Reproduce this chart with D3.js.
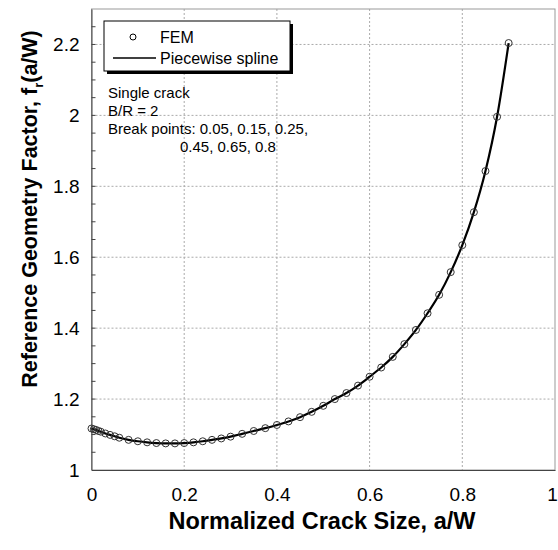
<!DOCTYPE html>
<html>
<head>
<meta charset="utf-8">
<script src="https://cdn.jsdelivr.net/npm/d3@7"></script>
<style>
  body { margin: 0; background: #fff; }
  text { font-family: "Liberation Sans", Arial, sans-serif; }
</style>
</head>
<body>
<svg id="chart"></svg>
<script>
// FEM results, a/W and f_r
const aW = [0, 0.005, 0.01, 0.015, 0.02, 0.03, 0.04, 0.05, 0.06, 0.08,
  0.1, 0.12, 0.14, 0.16, 0.18, 0.2, 0.22, 0.24, 0.26, 0.28, 0.3,
  0.325, 0.35, 0.375, 0.4, 0.425, 0.45, 0.475, 0.5, 0.525, 0.55, 0.575,
  0.6, 0.625, 0.65, 0.675, 0.7, 0.725, 0.75, 0.775, 0.8, 0.825, 0.85, 0.875, 0.9];
const fr = [1.117, 1.115, 1.113, 1.110, 1.108, 1.103, 1.099, 1.095, 1.091, 1.085,
  1.081, 1.078, 1.076, 1.075, 1.075, 1.076, 1.078, 1.081, 1.085, 1.089, 1.094,
  1.102, 1.110, 1.118, 1.127, 1.137, 1.149, 1.164, 1.181, 1.200, 1.217, 1.238,
  1.263, 1.289, 1.319, 1.355, 1.395, 1.442, 1.494, 1.558, 1.634, 1.727, 1.843, 1.996, 2.204];

const xTicks = [0, 0.2, 0.4, 0.6, 0.8, 1];
const yTicks = [1, 1.2, 1.4, 1.6, 1.8, 2, 2.2];
const yMinor = d3.range(1.05, 2.3, 0.05);

const notes = ["Single crack", "B/R = 2", "Break points: 0.05, 0.15, 0.25,"];
const notes2 = "0.45, 0.65, 0.8";

const width = 558;
const height = 550;
const margin = { top: 9, right: 3, bottom: 80, left: 91.5 };
const chartWidth = width - margin.left - margin.right;
const chartHeight = height - margin.top - margin.bottom;

const svg = d3.select("#chart")
  .attr("width", width)
  .attr("height", height);

const chart = svg.append("g")
  .attr("transform", "translate(" + margin.left + "," + margin.top + ")");

const xScale = d3.scaleLinear().domain([0, 1]).range([0, chartWidth]);
const yScale = d3.scaleLinear().domain([1, 2.3]).range([chartHeight, 0]);

const data = aW.map((a, i) => ({ a: a, f: fr[i] }));

// grid
chart.selectAll(".gx")
  .data(xTicks.slice(1, -1))
  .enter().append("line")
  .attr("x1", d => xScale(d)).attr("x2", d => xScale(d))
  .attr("y1", 0).attr("y2", chartHeight)
  .attr("stroke", "#aaa").attr("stroke-dasharray", "2,2");

chart.selectAll(".gy")
  .data(yTicks.slice(1))
  .enter().append("line")
  .attr("x1", 0).attr("x2", chartWidth)
  .attr("y1", d => yScale(d)).attr("y2", d => yScale(d))
  .attr("stroke", "#aaa").attr("stroke-dasharray", "2,2");

// frame
chart.append("rect")
  .attr("x", 0).attr("y", 0)
  .attr("width", chartWidth).attr("height", chartHeight)
  .attr("fill", "none").attr("stroke", "#999");

// minor y ticks (inside)
chart.selectAll(".my")
  .data(yMinor)
  .enter().append("line")
  .attr("x1", 0).attr("x2", 4)
  .attr("y1", d => yScale(d)).attr("y2", d => yScale(d))
  .attr("stroke", "#444");

// axes
const xAxis = chart.append("g")
  .attr("transform", `translate(0,${chartHeight})`)
  .call(d3.axisBottom(xScale).tickValues(xTicks).tickSize(0).tickPadding(18)
    .tickFormat(d3.format("~g")));
const yAxis = chart.append("g")
  .call(d3.axisLeft(yScale).tickValues(yTicks).tickSize(0).tickPadding(12)
    .tickFormat(d3.format("~g")));

[xAxis, yAxis].forEach(ax => {
  ax.select(".domain").attr("stroke", "#444");
  ax.selectAll("text")
    .attr("font-family", "Liberation Sans, Arial, sans-serif")
    .attr("font-size", 19)
    .attr("fill", "#000");
});
// keep the last x label inside the picture
xAxis.selectAll(".tick text").filter(d => d === 1).attr("dx", -3);

// spline through FEM points
const line = d3.line()
  .x(d => xScale(d.a))
  .y(d => yScale(d.f))
  .curve(d3.curveMonotoneX);

chart.append("path")
  .datum(data)
  .attr("fill", "none")
  .attr("stroke", "#000")
  .attr("stroke-width", 2.2)
  .attr("d", line);

chart.selectAll(".fem")
  .data(data)
  .enter().append("circle")
  .attr("class", "fem")
  .attr("cx", d => xScale(d.a))
  .attr("cy", d => yScale(d.f))
  .attr("r", 3.5)
  .attr("fill", "none")
  .attr("stroke", "#333")
  .attr("stroke-width", 1);

// axis labels
svg.append("text")
  .attr("x", 322)
  .attr("y", 529)
  .attr("text-anchor", "middle")
  .attr("font-size", 23.5)
  .attr("font-weight", "bold")
  .text("Normalized Crack Size, a/W");

const yLabel = svg.append("text")
  .attr("transform", "translate(37,209) rotate(-90)")
  .attr("text-anchor", "middle")
  .attr("font-size", 21.5)
  .attr("font-weight", "bold");
yLabel.append("tspan").text("Reference Geometry Factor, f");
yLabel.append("tspan").attr("font-size", 13).attr("dy", 6).text("r");
yLabel.append("tspan").attr("dy", -6).text("(a/W)");

// legend
const lg = svg.append("g");
lg.append("rect")
  .attr("x", 107).attr("y", 24).attr("width", 186).attr("height", 50)
  .attr("fill", "#000");
lg.append("rect")
  .attr("x", 104).attr("y", 21).attr("width", 186).attr("height", 50)
  .attr("fill", "#fff").attr("stroke", "#000");
lg.append("circle")
  .attr("cx", 133).attr("cy", 37).attr("r", 3)
  .attr("fill", "none").attr("stroke", "#000");
lg.append("text").attr("x", 160).attr("y", 43).attr("font-size", 16).text("FEM");
lg.append("line")
  .attr("x1", 113).attr("x2", 156).attr("y1", 58).attr("y2", 58)
  .attr("stroke", "#000").attr("stroke-width", 1.5);
lg.append("text").attr("x", 160).attr("y", 64).attr("font-size", 16).text("Piecewise spline");

// annotation
svg.selectAll(".note")
  .data(notes)
  .enter().append("text")
  .attr("x", 108)
  .attr("y", (d, i) => 98 + i * 18)
  .attr("font-size", 15)
  .text(d => d);
svg.append("text")
  .attr("x", 180).attr("y", 152)
  .attr("font-size", 15)
  .text(notes2);
</script>
</body>
</html>
